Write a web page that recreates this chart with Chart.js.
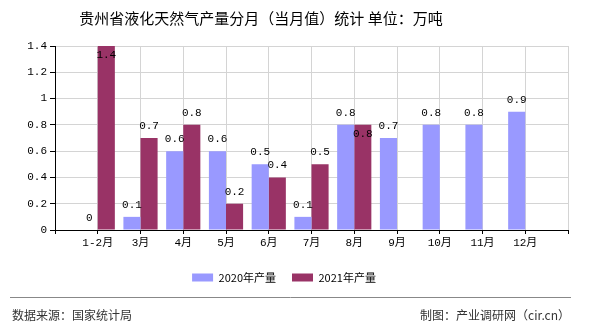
<!DOCTYPE html>
<html>
<head>
<meta charset="utf-8">
<script src="https://cdn.jsdelivr.net/npm/chart.js@4/dist/chart.umd.min.js"></script>
<style>
  html, body { margin: 0; padding: 0; background: #fff; }
  #wrap { width: 590px; height: 330px; position: relative; }
</style>
</head>
<body>
<div id="wrap"><canvas id="c" width="590" height="330"></canvas></div>
<script>
// Monthly LNG output for Guizhou, 10k tonnes
const categories = ['1-2月', '3月', '4月', '5月', '6月', '7月', '8月', '9月', '10月', '11月', '12月'];
const output2020 = [0, 0.1, 0.6, 0.6, 0.5, 0.1, 0.8, 0.7, 0.8, 0.8, 0.9];
const output2021 = [1.4, 0.7, 0.8, 0.2, 0.4, 0.5, 0.8, null, null, null, null];
const yTickValues = [0, 0.2, 0.4, 0.6, 0.8, 1, 1.2, 1.4];
const seriesNames = ['2020年产量', '2021年产量'];

const titleText = '贵州省液化天然气产量分月（当月值）统计 单位：万吨';
const sourceText = '数据来源：国家统计局';
const creditText = '制图：产业调研网（cir.cn）';

// The x axis has an empty slot on each side, so month labels sit on the gridlines
const pad = arr => [null, ...arr, null];
const xLabels = ['', ...categories, ''];

const monoFont = "'Liberation Mono', 'Noto Sans CJK SC', monospace";
const cjkFont = "'Noto Sans CJK SC', sans-serif";

// Value labels above each bar; pushed inside the bar when they would clip or collide
const valueLabels = {
  id: 'valueLabels',
  afterDatasetsDraw(chart) {
    const ctx = chart.ctx;
    const area = chart.chartArea;
    ctx.save();
    ctx.font = '11px ' + monoFont;
    ctx.fillStyle = '#000';
    ctx.textAlign = 'center';
    ctx.textBaseline = 'middle';
    const placed = [];
    chart.data.datasets.forEach((ds, di) => {
      const meta = chart.getDatasetMeta(di);
      meta.data.forEach((bar, i) => {
        const v = ds.data[i];
        if (v === null || v === undefined) return;
        const text = String(v);
        const w = ctx.measureText(text).width;
        const h = 12;
        let cy = bar.y - 12;
        const box = y => ({ l: bar.x - w / 2, r: bar.x + w / 2, t: y - h / 2, b: y + h / 2 });
        let b = box(cy);
        const hits = bb => placed.some(p => p.l < bb.r && bb.l < p.r && p.t < bb.b && bb.t < p.b);
        if (b.t < area.top || hits(b)) {
          cy = bar.y + 9;
          b = box(cy);
        }
        placed.push(b);
        ctx.fillText(text, bar.x, cy);
      });
    });
    ctx.restore();
  }
};

// Title, footer rule and footer texts
const frame = {
  id: 'frame',
  afterDraw(chart) {
    const ctx = chart.ctx;
    ctx.save();
    ctx.fillStyle = '#000';
    ctx.font = '15px ' + cjkFont;
    ctx.textAlign = 'center';
    ctx.textBaseline = 'middle';
    ctx.fillText(titleText, 261, 18);

    ctx.strokeStyle = '#888';
    ctx.lineWidth = 1;
    ctx.beginPath();
    ctx.moveTo(10, 297.5);
    ctx.lineTo(571, 297.5);
    ctx.stroke();

    ctx.fillStyle = '#333';
    ctx.font = '12px ' + cjkFont;
    ctx.textAlign = 'left';
    ctx.fillText(sourceText, 12, 315);
    ctx.textAlign = 'right';
    ctx.fillText(creditText, 570, 315);
    ctx.restore();
  }
};

new Chart(document.getElementById('c'), {
  type: 'bar',
  data: {
    labels: xLabels,
    datasets: [
      { label: seriesNames[0], data: pad(output2020), backgroundColor: '#9999ff' },
      { label: seriesNames[1], data: pad(output2021), backgroundColor: '#993366' }
    ]
  },
  options: {
    responsive: false,
    animation: false,
    devicePixelRatio: 1,
    layout: { padding: { top: 46, left: 0, right: 22, bottom: 37 } },
    datasets: { bar: { categoryPercentage: 0.8, barPercentage: 1 } },
    scales: {
      x: {
        offset: false,
        grid: { offset: false, color: '#d4d4d4', tickColor: '#000', tickLength: 4 },
        border: { color: '#000' },
        ticks: { autoSkip: false, maxRotation: 0, padding: 2, color: '#000', font: { family: monoFont, size: 11 } },
        afterFit(scale) { scale.height = 26; }
      },
      y: {
        min: 0,
        max: 1.4,
        afterBuildTicks(scale) { scale.ticks = yTickValues.map(v => ({ value: v })); },
        grid: { color: '#d4d4d4', tickColor: '#000', tickLength: 5 },
        border: { color: '#000' },
        ticks: { padding: 3, color: '#000', font: { family: monoFont, size: 11 }, callback: v => String(v) },
        afterFit(scale) { scale.width = 55; }
      }
    },
    plugins: {
      legend: {
        position: 'bottom',
        labels: {
          boxWidth: 21,
          boxHeight: 8,
          padding: 16,
          color: '#000',
          font: { family: cjkFont, size: 11 }
        }
      },
      tooltip: { enabled: false }
    }
  },
  plugins: [valueLabels, frame]
});
</script>
</body>
</html>
